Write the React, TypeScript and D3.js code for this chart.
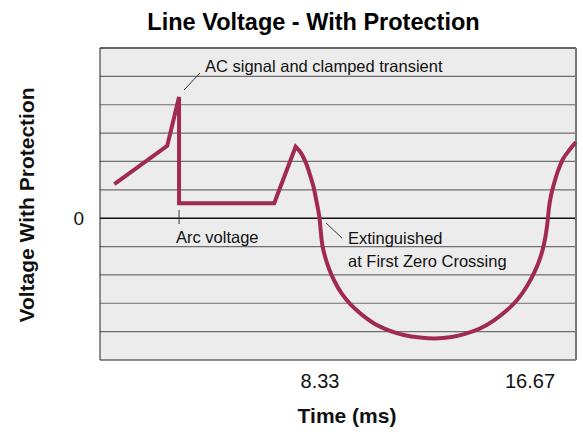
import { scaleLinear, line, curveLinear, curveCatmullRom } from "d3";

// time in ms, voltage in grid units
const transientT = [0.16, 2.26, 2.73, 2.73, 6.51, 7.36];
const transientV = [1.2, 2.55, 4.27, 0.53, 0.53, 2.52];

const acT = [
  7.36, 7.57, 7.77, 7.93, 8.06, 8.21, 8.31, 8.36, 8.42, 8.53, 8.69, 8.92, 9.2, 9.56, 10.0, 10.51, 11.11, 11.7, 12.3,
  12.9, 13.49, 14.09, 14.68, 15.24, 15.75, 16.19, 16.55, 16.83, 17.03, 17.18, 17.28, 17.34, 17.38, 17.42, 17.5, 17.62,
  17.78, 17.98, 18.24, 18.49,
];
const acV = [
  2.52, 2.3, 1.95, 1.53, 1.14, 0.5, 0, -0.48, -0.94, -1.36, -1.79, -2.25, -2.67, -3.06, -3.41, -3.73, -3.97, -4.13, -4.21,
  -4.24, -4.2, -4.08, -3.89, -3.6, -3.25, -2.85, -2.39, -1.93, -1.51, -1.08, -0.66, -0.31, 0, 0.36, 0.79, 1.21, 1.67,
  2.09, 2.41, 2.68,
];

const xTicks = [8.33, 16.67];
const xTickLabels = ["8.33", "16.67"];
const gridLevels = [-4, -3, -2, -1, 1, 2, 3, 4, 5];

const W = 583;
const H = 432;
const PLOT = { left: 100, right: 576, top: 48, bottom: 360 };
const FONT = "'Liberation Sans', Arial, Helvetica, sans-serif";
const LINE_COLOR = "#a02a52";

export default function App() {
  const x = scaleLinear().domain([-0.409, 18.495]).range([PLOT.left, PLOT.right]);
  const y = scaleLinear().domain([-5, 6]).range([PLOT.bottom, PLOT.top]);

  const straight = line<number>()
    .x((_, i) => x(transientT[i]))
    .y((d) => y(d))
    .curve(curveLinear);
  const smooth = line<number>()
    .x((_, i) => x(acT[i]))
    .y((d) => y(d))
    .curve(curveCatmullRom.alpha(0.5));

  // one path so the peak keeps a sharp join
  const d = (straight(transientV) ?? "") + (smooth(acV) ?? "").replace(/^M/, "L");

  const arcX = x(transientT[3]);

  return (
    <svg width={W} height={H} style={{ position: "absolute", left: 0, top: 0 }} fontFamily={FONT}>
      <rect width={W} height={H} fill="#fff" />
      <text x={313.5} y={30} textAnchor="middle" fontSize={23.5} fontWeight="bold" fill="#000">
        Line Voltage - With Protection
      </text>

      <rect x={PLOT.left} y={PLOT.top} width={PLOT.right - PLOT.left} height={PLOT.bottom - PLOT.top} fill="#ececec" />

      {gridLevels.map((g) => (
        <line key={g} x1={PLOT.left} x2={PLOT.right} y1={y(g)} y2={y(g)} stroke="#6e6e6e" strokeWidth={1.2} />
      ))}
      <line x1={PLOT.left} x2={PLOT.right} y1={y(0)} y2={y(0)} stroke="#111" strokeWidth={1.6} />

      {/* frame */}
      <line x1={PLOT.left} x2={PLOT.right} y1={PLOT.top} y2={PLOT.top} stroke="#666" strokeWidth={2} />
      <line x1={PLOT.left} x2={PLOT.right} y1={PLOT.bottom} y2={PLOT.bottom} stroke="#666" strokeWidth={1.5} />
      <line x1={PLOT.left} x2={PLOT.left} y1={PLOT.top} y2={PLOT.bottom} stroke="#222" strokeWidth={1} />
      <line x1={PLOT.right} x2={PLOT.right} y1={PLOT.top} y2={PLOT.bottom} stroke="#777" strokeWidth={2} />

      {/* annotations */}
      <line x1={184} y1={90} x2={200} y2={73} stroke="#333" strokeWidth={1} />
      <text x={205} y={72} fontSize={16.5} fill="#111">AC signal and clamped transient</text>

      <line x1={arcX} x2={arcX} y1={210} y2={224} stroke="#333" strokeWidth={1} />
      <text x={176} y={243} fontSize={16.5} fill="#111">Arc voltage</text>

      <line x1={326} y1={223} x2={342} y2={238} stroke="#333" strokeWidth={1} />
      <text x={348} y={244} fontSize={16.5} fill="#111">Extinguished</text>
      <text x={348} y={266.5} fontSize={16.5} fill="#111">at First Zero Crossing</text>

      <path d={d} fill="none" stroke={LINE_COLOR} strokeWidth={4} strokeLinejoin="miter" />

      {/* axes labels */}
      <text x={84} y={y(0)} dy="0.35em" textAnchor="end" fontSize={19} fill="#111">0</text>
      {xTicks.map((t, i) => (
        <text key={t} x={x(t)} y={388} textAnchor="middle" fontSize={20} fill="#111">
          {xTickLabels[i]}
        </text>
      ))}
      <text x={347} y={423} textAnchor="middle" fontSize={21} fontWeight="bold" fill="#111">
        Time (ms)
      </text>
      <text
        transform={`translate(34,${205}) rotate(-90)`}
        textAnchor="middle"
        fontSize={21}
        fontWeight="bold"
        fill="#111"
      >
        Voltage With Protection
      </text>
    </svg>
  );
}
